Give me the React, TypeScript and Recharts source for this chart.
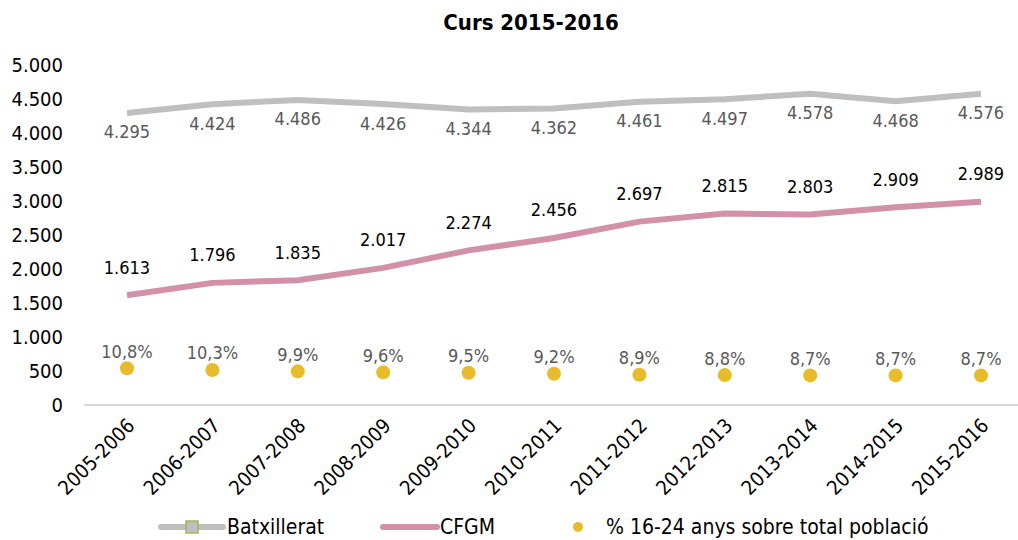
import { LineChart, Line, XAxis, YAxis, LabelList } from "recharts";

const categories = [
  "2005-2006", "2006-2007", "2007-2008", "2008-2009", "2009-2010", "2010-2011",
  "2011-2012", "2012-2013", "2013-2014", "2014-2015", "2015-2016",
];
const batxillerat = [4295, 4424, 4486, 4426, 4344, 4362, 4461, 4497, 4578, 4468, 4576];
const cfgm = [1613, 1796, 1835, 2017, 2274, 2456, 2697, 2815, 2803, 2909, 2989];
const pct1624 = [10.8, 10.3, 9.9, 9.6, 9.5, 9.2, 8.9, 8.8, 8.7, 8.7, 8.7];
const yTicks = [0, 500, 1000, 1500, 2000, 2500, 3000, 3500, 4000, 4500, 5000];

const data = categories.map((c, i) => ({
  curs: c,
  batx: batxillerat[i],
  cfgm: cfgm[i],
  pct: pct1624[i],
}));

const FONT = "'DejaVu Sans Condensed', 'DejaVu Sans', sans-serif";
const GREY = "#bfbfbf";
const PINK = "#d291a6";
const YELLOW = "#e8bb2a";

const thousands = (v: number) => String(v).replace(/\B(?=(\d{3})+(?!\d))/g, ".");
const pctFmt = (v: number) => v.toFixed(1).replace(".", ",") + "%";

const makeLabel = (dy: number, color: string, fmt: (v: number) => string) => (props: any) => {
  const { x, y, value } = props;
  return (
    <text x={x} y={y + dy} textAnchor="middle" dominantBaseline="central" fill={color} fontSize={18} fontFamily={FONT}>
      {fmt(value)}
    </text>
  );
};

const XTick = ({ x, y, payload }: any) => (
  <text
    x={x + 4}
    y={y + 9}
    textAnchor="end"
    dominantBaseline="central"
    transform={`rotate(-45, ${x + 4}, ${y + 9})`}
    fill="#000"
    fontSize={20}
    fontFamily={FONT}
  >
    {payload.value}
  </text>
);

const legendText = { position: "absolute" as const, top: 0, fontSize: 21, fontFamily: FONT, color: "#000", lineHeight: "26px" };

export default function App() {
  return (
    <div style={{ position: "absolute", left: 0, top: 0, width: 1018, height: 540, overflow: "hidden", background: "#fff" }}>
      <div
        style={{
          position: "absolute",
          top: 9,
          left: 531,
          transform: "translateX(-50%)",
          whiteSpace: "nowrap",
          fontFamily: FONT,
          fontWeight: "bold",
          fontSize: 22,
          lineHeight: "28px",
          color: "#000",
        }}
      >
        Curs 2015-2016
      </div>
      <LineChart width={1030} height={540} data={data} margin={{ top: 65, right: 6, bottom: 35, left: 0 }}>
        <XAxis
          dataKey="curs"
          padding={{ left: 43, right: 43 }}
          axisLine={{ stroke: "#d9d9d9", strokeWidth: 2 }}
          tickLine={false}
          tick={<XTick />}
          height={100}
          interval={0}
        />
        <YAxis
          yAxisId="left"
          width={84}
          domain={[0, 5000]}
          ticks={yTicks}
          tickFormatter={thousands}
          axisLine={false}
          tickLine={false}
          tickSize={0}
          tickMargin={21}
          tick={{ fill: "#000", fontSize: 20, fontFamily: FONT }}
        />
        <YAxis yAxisId="right" orientation="right" domain={[0, 100]} hide />
        <Line yAxisId="left" dataKey="batx" stroke={GREY} strokeWidth={6} dot={false} isAnimationActive={false}>
          <LabelList dataKey="batx" content={makeLabel(19, "#595959", thousands)} />
        </Line>
        <Line yAxisId="left" dataKey="cfgm" stroke={PINK} strokeWidth={6} dot={false} isAnimationActive={false}>
          <LabelList dataKey="cfgm" content={makeLabel(-28, "#000", thousands)} />
        </Line>
        <Line
          yAxisId="right"
          dataKey="pct"
          stroke="none"
          strokeWidth={0}
          dot={{ r: 7, fill: YELLOW, stroke: "none" }}
          activeDot={false}
          isAnimationActive={false}
        >
          <LabelList dataKey="pct" content={makeLabel(-17, "#595959", pctFmt)} />
        </Line>
      </LineChart>
      <div style={{ position: "absolute", left: 0, top: 514, width: 1018, height: 26 }}>
        <svg style={{ position: "absolute", left: 158, top: 3 }} width={68} height={20}>
          <line x1={3} y1={10} x2={65} y2={10} stroke={GREY} strokeWidth={6} strokeLinecap="round" />
          <rect x={28} y={4} width={12} height={12} fill={GREY} stroke="#9bbb59" strokeWidth={1.5} />
        </svg>
        <span style={{ ...legendText, left: 227 }}>Batxillerat</span>
        <svg style={{ position: "absolute", left: 380, top: 3 }} width={60} height={20}>
          <line x1={3} y1={10} x2={57} y2={10} stroke={PINK} strokeWidth={6} strokeLinecap="round" />
        </svg>
        <span style={{ ...legendText, left: 440 }}>CFGM</span>
        <svg style={{ position: "absolute", left: 570, top: 3 }} width={16} height={20}>
          <circle cx={8} cy={10} r={5} fill={YELLOW} />
        </svg>
        <span style={{ ...legendText, left: 606 }}>% 16-24 anys sobre total població</span>
      </div>
    </div>
  );
}
